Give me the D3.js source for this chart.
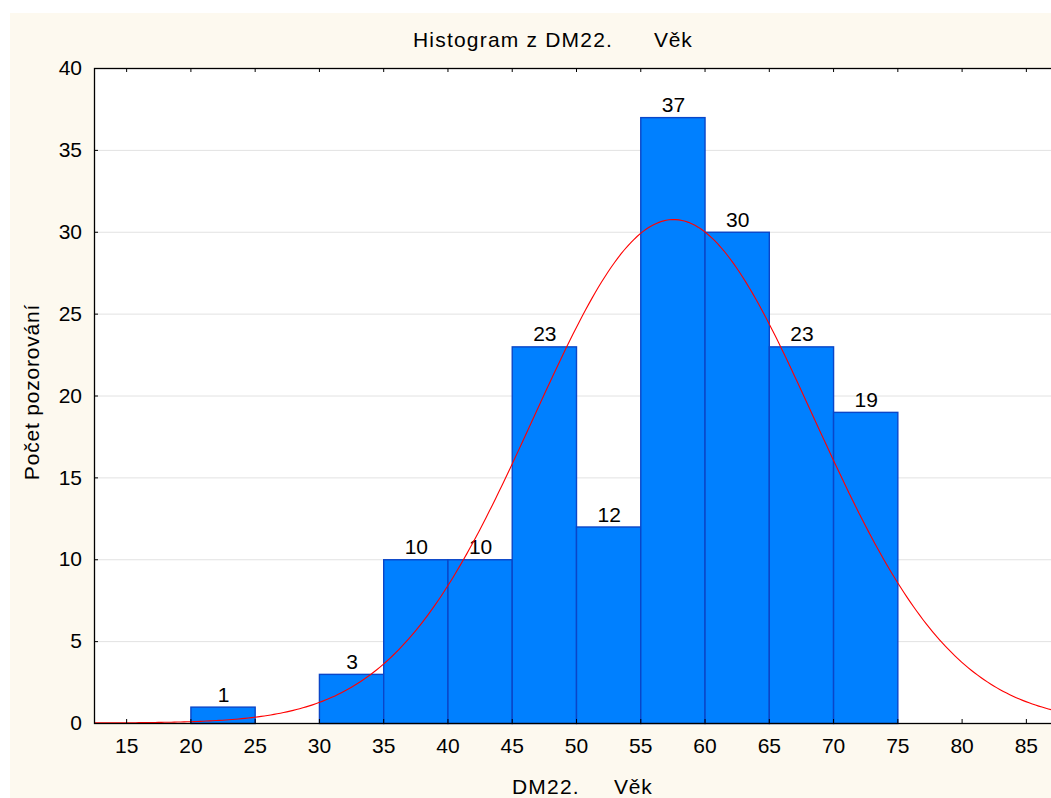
<!DOCTYPE html>
<html>
<head>
<meta charset="utf-8">
<script src="https://cdn.jsdelivr.net/npm/d3@7"></script>
<style>
  html, body { margin: 0; padding: 0; background: #ffffff; }
  svg { display: block; }
  text { font-family: "Liberation Sans", Arial, sans-serif; fill: #000; }
</style>
</head>
<body>
<svg id="chart" width="1051" height="798"></svg>
<script>
// Histogram bins (lower edge, upper edge) and counts
const binStarts = [15, 20, 25, 30, 35, 40, 45, 50, 55, 60, 65, 70];
const binEnds   = [20, 25, 30, 35, 40, 45, 50, 55, 60, 65, 70, 75];
const counts    = [0, 1, 0, 3, 10, 10, 23, 12, 37, 30, 23, 19];

// Axis ticks
const xTicks = [15, 20, 25, 30, 35, 40, 45, 50, 55, 60, 65, 70, 75, 80, 85];
const yTicks = [0, 5, 10, 15, 20, 25, 30, 35, 40];

// Fitted normal curve parameters
const fitMean = 57.6;
const fitSd = 10.9;

// Title and axis label pieces (variable name, then its label)
const titleParts = ["Histogram z DM22.", "Věk"];
const xLabelParts = ["DM22.", "Věk"];
const yLabel = "Počet pozorování";

const svg = d3.select("#chart");
const W = 1051, H = 798;
const plot = { left: 94, top: 68, right: 1058, bottom: 723 };
const FS = 21;

// Page background panel
svg.append("rect").attr("x", 10).attr("y", 13).attr("width", W - 10).attr("height", H - 13)
  .attr("fill", "#fdf9ef");

const x = d3.scaleLinear().domain([12.5, 87.5]).range([plot.left, plot.right]);
const y = d3.scaleLinear().domain([0, 40]).range([plot.bottom, plot.top]);

// Plot area
svg.append("rect").attr("x", plot.left).attr("y", plot.top)
  .attr("width", plot.right - plot.left).attr("height", plot.bottom - plot.top)
  .attr("fill", "#ffffff");

// Horizontal gridlines
svg.append("g").selectAll("line").data(yTicks.filter(v => v > 0 && v < 40)).join("line")
  .attr("x1", plot.left).attr("x2", plot.right)
  .attr("y1", d => y(d) + 0.5).attr("y2", d => y(d) + 0.5)
  .attr("stroke", "#e2e2e2").attr("stroke-width", 1);

// Bars
const bins = binStarts.map((s, i) => ({ s, e: binEnds[i], n: counts[i] })).filter(d => d.n > 0);
svg.append("g").selectAll("rect").data(bins).join("rect")
  .attr("x", d => x(d.s) + 0.5)
  .attr("y", d => y(d.n) + 0.5)
  .attr("width", d => x(d.e) - x(d.s))
  .attr("height", d => y(0) - y(d.n))
  .attr("fill", "#0080ff")
  .attr("stroke", "#0a46c8")
  .attr("stroke-width", 1.4);

// Count labels above bars
svg.append("g").selectAll("text").data(bins).join("text")
  .attr("x", d => (x(d.s) + x(d.e)) / 2 + 1)
  .attr("y", d => y(d.n) - 5)
  .attr("text-anchor", "middle")
  .attr("font-size", FS)
  .text(d => d.n);

// Normal curve scaled to counts
const total = d3.sum(counts);
const binWidth = 5;
const pdf = v => Math.exp(-0.5 * ((v - fitMean) / fitSd) ** 2) / (fitSd * Math.sqrt(2 * Math.PI));
const curvePts = d3.range(12.5, 87.6, 0.25).map(v => [v, total * binWidth * pdf(v)]);
svg.append("path")
  .datum(curvePts)
  .attr("d", d3.line().x(d => x(d[0])).y(d => y(d[1])))
  .attr("fill", "none").attr("stroke", "#ff0000").attr("stroke-width", 1.1);

// Frame
svg.append("rect").attr("x", plot.left + 0.5).attr("y", plot.top + 0.5)
  .attr("width", plot.right - plot.left).attr("height", plot.bottom - plot.top)
  .attr("fill", "none").attr("stroke", "#000").attr("stroke-width", 1.3);

// Bottom axis: ticks inward, labels below
const xAxis = d3.axisBottom(x).tickValues(xTicks).tickSize(0).tickPadding(15);
const gx = svg.append("g").attr("transform", `translate(0,${plot.bottom})`).call(xAxis);
gx.select(".domain").remove();
gx.selectAll("text").attr("font-size", FS).attr("font-family", "Liberation Sans, Arial, sans-serif").attr("fill", "#000");
gx.selectAll(".tick").append("line").attr("y1", 0).attr("y2", -4).attr("stroke", "#000");

// Top ticks
const gxt = svg.append("g").attr("transform", `translate(0,${plot.top})`)
  .call(d3.axisTop(x).tickValues(xTicks).tickSize(0).tickFormat(""));
gxt.select(".domain").remove();
gxt.selectAll(".tick").append("line").attr("y1", 0).attr("y2", 4).attr("stroke", "#000");

// Left axis: ticks inward, labels left
const yAxis = d3.axisLeft(y).tickValues(yTicks).tickSize(0).tickPadding(12);
const gy = svg.append("g").attr("transform", `translate(${plot.left},0)`).call(yAxis);
gy.select(".domain").remove();
gy.selectAll("text").attr("font-size", FS).attr("font-family", "Liberation Sans, Arial, sans-serif").attr("fill", "#000");
gy.selectAll(".tick").append("line").attr("x1", 0).attr("x2", 4).attr("stroke", "#000");

// Title
svg.append("text").attr("x", 413).attr("y", 47).attr("font-size", FS)
  .attr("letter-spacing", 1.2).text(titleParts[0]);
svg.append("text").attr("x", 654).attr("y", 47).attr("font-size", FS)
  .attr("letter-spacing", 0.8).text(titleParts[1]);

// X axis label
svg.append("text").attr("x", 512).attr("y", 794).attr("font-size", FS)
  .attr("letter-spacing", 1.2).text(xLabelParts[0]);
svg.append("text").attr("x", 614).attr("y", 794).attr("font-size", FS)
  .attr("letter-spacing", 0.8).text(xLabelParts[1]);

// Y axis label
svg.append("text").attr("transform", "translate(39,392) rotate(-90)").attr("text-anchor", "middle")
  .attr("font-size", FS).attr("letter-spacing", 0.8).text(yLabel);
</script>
</body>
</html>
